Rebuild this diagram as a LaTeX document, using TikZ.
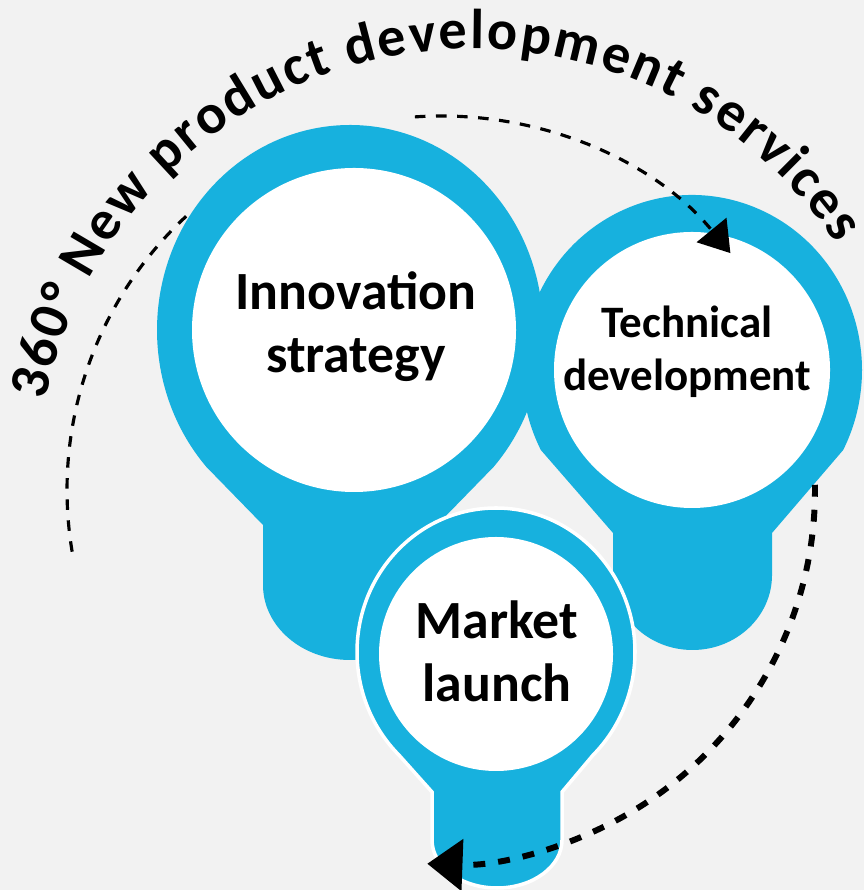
\documentclass[tikz,border=0pt]{standalone}
\usepackage{fontspec}
\setmainfont{Carlito}
\usetikzlibrary{arrows.meta,decorations.text}
\definecolor{bulbblue}{RGB}{23,177,222}
\definecolor{paper}{RGB}{242,242,242}

\begin{document}
\begin{tikzpicture}
	\tikzset{bulb/.style = {fill=bulbblue}}
	\tikzset{core/.style = {fill=white}}
	\tikzset{bulbtext/.style = {align=center, font=\bfseries\fontsize{15.3}{18}\selectfont}}
	\tikzset{flow/.style = {line width=0.9pt, dash pattern=on 3pt off 3pt}}
	
	\fill[paper] (0,0) rectangle (8.64,8.90);
	\useasboundingbox (0,0) rectangle (8.64,8.90);
	
	% innovation bulb
	\fill[bulb] ([shift={(221.9:1.93 and 2.05)}]3.50,5.60) arc[start angle=221.9, end angle=-41.9, x radius=1.93, y radius=2.05]
		-- (4.37,3.65) -- (4.37,3.05) arc[start angle=0, end angle=-180, x radius=0.87, y radius=0.75] -- (2.63,3.65) -- cycle;
	\fill[core] (3.54,5.60) circle[radius=1.62];
	
	% technical bulb
	\fill[bulb] ([shift={(207.2:1.70 and 1.75)}]6.92,5.20) arc[start angle=207.2, end angle=-27.2, x radius=1.70, y radius=1.75]
		-- (7.72,3.57) -- (7.72,3.15) arc[start angle=0, end angle=-180, x radius=0.795, y radius=0.75] -- (6.13,3.57) -- cycle;
	\fill[core] (6.92,5.20) circle[radius=1.38];
	
	% market bulb, white rim over the others
	\filldraw[bulb, draw=white, line width=1pt] ([shift={(225.7:1.39 and 1.44)}]4.96,2.38) arc[start angle=225.7, end angle=-45.7, x radius=1.39, y radius=1.44]
		-- (5.62,0.98) -- (5.62,0.50) arc[start angle=0, end angle=-180, x radius=0.65, y radius=0.48] -- (4.32,0.98) -- cycle;
	\fill[core] (4.96,2.36) circle[radius=1.17];
	
	\node[bulbtext] (innov) at (3.56,5.63) {Innovation\\strategy};
	\node[bulbtext, font=\bfseries\fontsize{12.8}{15}\selectfont] (techdev) at (6.87,5.38) {Technical\\development};
	\node[bulbtext] (market) at (4.97,2.385) {Market\\launch};
	
	\coordinate (hub) at (4.41,4.00);
	\coordinate (a1) at ([shift={(189.5:3.74)}]hub);
	\coordinate (a2) at ([shift={(94:3.74)}]hub);
	\coordinate (a3) at ([shift={(0.8:3.74)}]hub);
	
	\draw[flow] (a1) arc[start angle=189.5, end angle=132, radius=3.74];
	\draw[flow, -{Triangle[length=8.5pt, width=10.8pt]}] (a2) arc[start angle=94, end angle=39.3, radius=3.74];
	\draw[flow, line width=1.7pt, dash pattern=on 3.4pt off 3.7pt, -{Triangle[length=10pt, width=14.5pt]}] (a3) arc[start angle=0.8, end angle=-92.1, radius=3.74];
	
	% title along the circle
	\coordinate (tc) at (4.73,4.06);
	\path[decorate, decoration={text along path, text align=fit to path,
		text={|\bfseries\fontsize{16}{19}\selectfont|360° New product development services}}]
		([shift={(169:4.35)}]tc) arc[start angle=169, end angle=33.5, radius=4.35];
\end{tikzpicture}
\end{document}
